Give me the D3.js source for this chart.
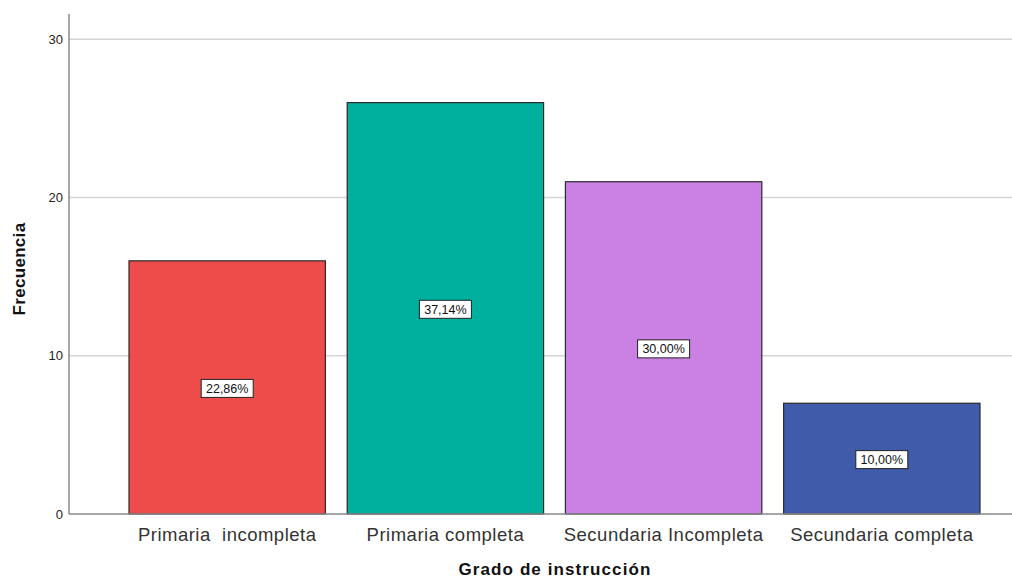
<!DOCTYPE html>
<html>
<head>
<meta charset="utf-8">
<script src="https://cdn.jsdelivr.net/npm/d3@7"></script>
<style>
  body { margin: 0; background: #fff; }
  text { font-family: Arial, "Liberation Sans", sans-serif; }
</style>
</head>
<body>
<script>
let categories = ['Primaria  incompleta', 'Primaria completa', 'Secundaria Incompleta', 'Secundaria completa'];
let counts = [16, 26, 21, 7];
let percents = ['22,86%', '37,14%', '30,00%', '10,00%'];
let colors = ['#ee4b4b', '#00b09e', '#cb80e3', '#3f5ba9'];
let yTicks = [0, 10, 20, 30];

let width = 1012;
let height = 580;

let svg = d3.select('body').append('svg')
            .attr('width', width)
            .attr('height', height);

let x = d3.scaleBand()
          .domain(categories)
          .range([129, 980])
          .paddingInner(0.1)
          .paddingOuter(0);

let y = d3.scaleLinear()
          .domain([0, 31.6])
          .range([514, 14]);

// gridlines
svg.selectAll('line.grid').data(yTicks.filter(d => d > 0))
   .enter()
   .append('line')
   .attr('class', 'grid')
   .attr('x1', 69)
   .attr('x2', width)
   .attr('y1', d => y(d))
   .attr('y2', d => y(d))
   .attr('stroke', '#d4d4d4')
   .attr('stroke-width', 1.5);

// y axis
let yAxis = svg.append('g')
               .attr('transform', 'translate(69,0)')
               .call(d3.axisLeft(y).tickValues(yTicks).tickSize(0).tickPadding(6));
yAxis.select('.domain').remove();
yAxis.selectAll('text').attr('font-size', '13px').attr('fill', '#222')
     .style('font-family', 'Arial, "Liberation Sans", sans-serif');

// bars
svg.selectAll('rect.bar').data(counts)
   .enter()
   .append('rect')
   .attr('class', 'bar')
   .attr('x', (d, i) => x(categories[i]))
   .attr('y', d => y(d))
   .attr('width', x.bandwidth())
   .attr('height', d => y(0) - y(d))
   .attr('fill', (d, i) => colors[i])
   .attr('stroke', '#2a2a2a')
   .attr('stroke-width', 1.2);

// axis lines
svg.append('line')
   .attr('x1', 69).attr('x2', 69)
   .attr('y1', 14).attr('y2', y(0))
   .attr('stroke', '#888').attr('stroke-width', 1.5);
svg.append('line')
   .attr('x1', 69).attr('x2', width)
   .attr('y1', y(0)).attr('y2', y(0))
   .attr('stroke', '#888').attr('stroke-width', 1.5);

// percent labels
let labels = svg.selectAll('g.lbl').data(counts)
   .enter()
   .append('g')
   .attr('class', 'lbl')
   .attr('transform', (d, i) => `translate(${x(categories[i]) + x.bandwidth() / 2},${(y(d) + y(0)) / 2 + 1})`);

labels.append('rect')
      .attr('x', -26)
      .attr('y', -9)
      .attr('width', 52)
      .attr('height', 18)
      .attr('fill', '#fff')
      .attr('stroke', '#222')
      .attr('stroke-width', 1);

labels.append('text')
      .attr('text-anchor', 'middle')
      .attr('dy', '0.36em')
      .attr('font-size', '12.5px')
      .attr('fill', '#111')
      .text((d, i) => percents[i]);

// category labels
svg.selectAll('text.cat').data(categories)
   .enter()
   .append('text')
   .attr('class', 'cat')
   .attr('x', d => x(d) + x.bandwidth() / 2)
   .attr('y', 541)
   .attr('text-anchor', 'middle')
   .attr('font-size', '18.5px')
   .attr('letter-spacing', '0.5px')
   .attr('fill', '#333')
   .style('white-space', 'pre')
   .text(d => d);

// axis titles
svg.append('text')
   .attr('x', 555)
   .attr('y', 575)
   .attr('text-anchor', 'middle')
   .attr('font-size', '17px')
   .attr('font-weight', 'bold')
   .attr('letter-spacing', '1.1px')
   .attr('fill', '#111')
   .text('Grado de instrucción');

svg.append('text')
   .attr('transform', 'translate(25,269) rotate(-90)')
   .attr('text-anchor', 'middle')
   .attr('font-size', '17px')
   .attr('font-weight', 'bold')
   .attr('letter-spacing', '0.3px')
   .attr('fill', '#111')
   .text('Frecuencia');
</script>
</body>
</html>
